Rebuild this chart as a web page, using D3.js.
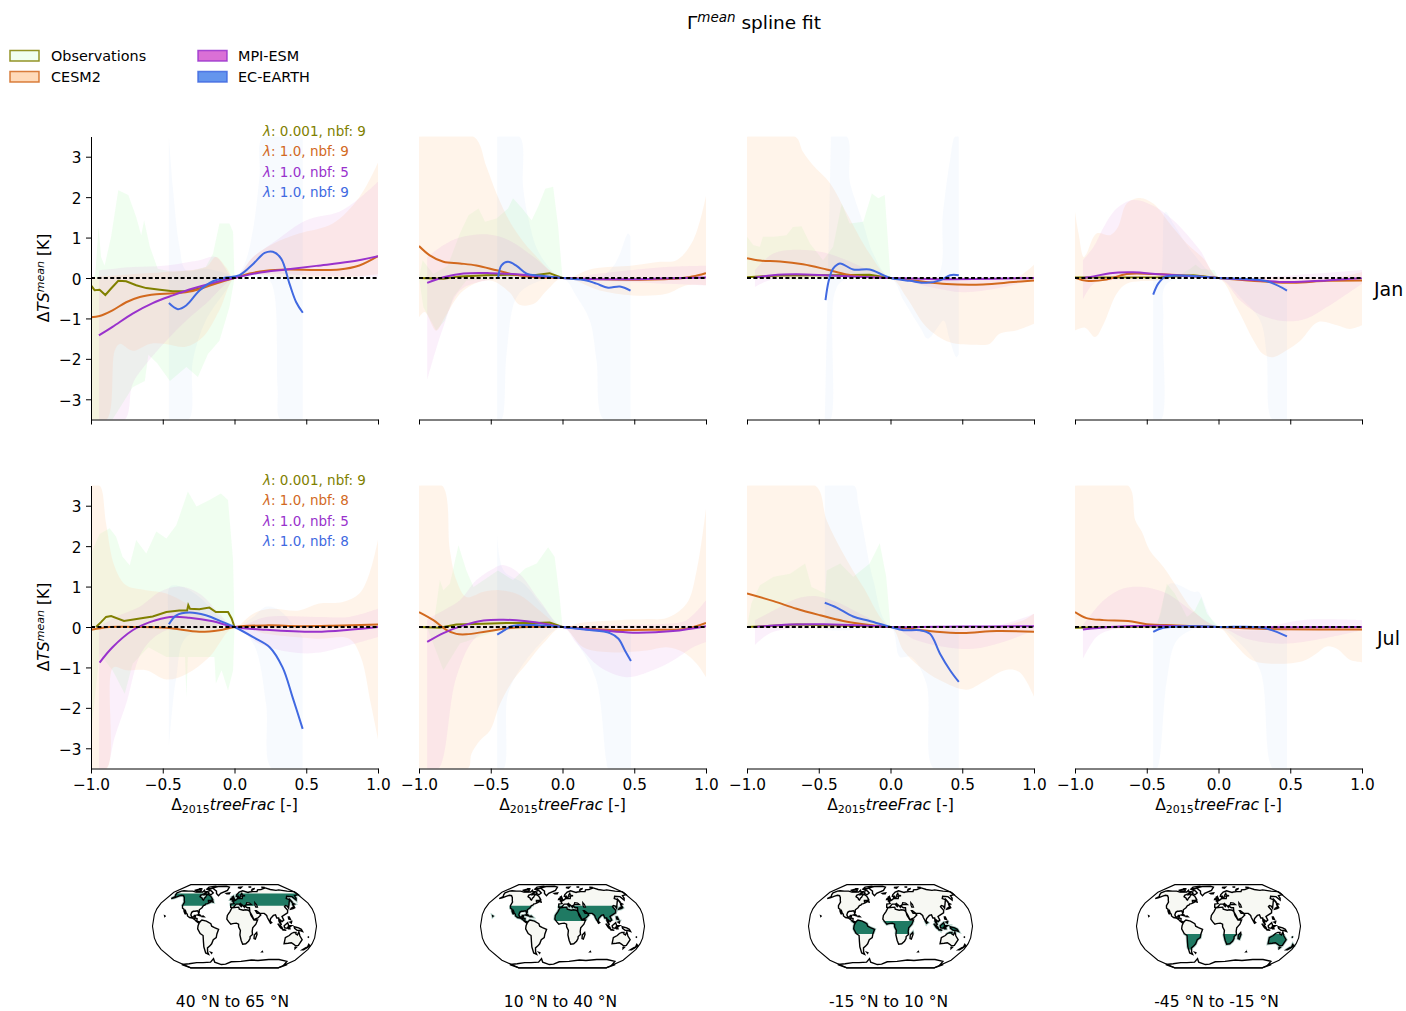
<!DOCTYPE html>
<html>
<head>
<meta charset="utf-8">
<script src="https://d3js.org/d3.v7.min.js"></script>
<style>
  html, body { margin: 0; background: #fff; }
  svg text { font-family: "DejaVu Sans", sans-serif; fill: #000; }
</style>
</head>
<body>
<svg id="chart" width="1406" height="1011"></svg>
<script>
// values: [x, y] in axis units
var xTicks = [-1, -0.5, 0, 0.5, 1];
var yTicks = [-3, -2, -1, 0, 1, 2, 3];
var months = ['Jan', 'Jul'];
var models = ['Observations', 'CESM2', 'MPI-ESM', 'EC-EARTH'];
var regionLabels = ['40 °N to 65 °N', '10 °N to 40 °N', '-15 °N to 10 °N', '-45 °N to -15 °N'];
var latBands = [[40, 65], [10, 40], [-15, 10], [-45, -15]];
var janFits = ['0.001, nbf: 9', '1.0, nbf: 9', '1.0, nbf: 5', '1.0, nbf: 9'];
var julFits = ['0.001, nbf: 9', '1.0, nbf: 8', '1.0, nbf: 5', '1.0, nbf: 8'];

// Jan, 40 to 65 N
var j1ObsLine = [[-1,-.18],[-.975,-.3],[-.94,-.29],[-.9,-.42],[-.86,-.26],[-.81,-.07],[-.755,-.08],[-.685,-.18],[-.615,-.25],[-.52,-.29],[-.43,-.33],[-.34,-.33],[-.245,-.26],[-.15,-.14],[-.06,-.03],[0,0]];
var j1ObsHi = [[-1,-.1],[-.97,.1],[-.947,1.26],[-.93,.52],[-.905,.31],[-.86,1.02],[-.81,2.17],[-.74,2.05],[-.685,1.51],[-.65,1.06],[-.63,1.43],[-.59,.77],[-.535,.23],[-.43,.15],[-.29,.19],[-.2,.27],[-.15,.6],[-.105,1.35],[-.035,1.35],[-.01,1.14],[0,0]];
var j1ObsLo = [[-1,-3.5],[-.85,-3.5],[-.71,-2.7],[-.625,-2.55],[-.6,-1.9],[-.54,-2.1],[-.45,-2.55],[-.335,-2.2],[-.255,-2.45],[-.185,-1.88],[-.105,-1.55],[-.035,-.72],[0,0]];
var j1CesmLine = [[-1,-.97],[-.94,-.94],[-.85,-.8],[-.755,-.6],[-.66,-.47],[-.545,-.4],[-.43,-.38],[-.29,-.32],[-.15,-.16],[0,0],[.105,.11],[.22,.18],[.36,.21],[.57,.2],[.73,.21],[.87,.31],[1,.54]];
var j1CesmHi = [[-1,.02],[-.7,.1],[-.48,.15],[-.2,.27],[-.13,.52],[-.06,.27],[0,0],[.13,.52],[.27,.85],[.45,1.1],[.685,1.35],[.87,2],[1,2.85]];
var j1CesmLo = [[-1,-3.5],[-.89,-3.5],[-.835,-1.8],[-.8,-1.63],[-.71,-1.8],[-.59,-1.63],[-.48,-1.63],[-.34,-1.7],[-.22,-1.46],[-.105,-.8],[0,0],[.13,.09],[.36,0],[.685,-.02],[1,.1]];
var j1MpiLine = [[-.945,-1.42],[-.85,-1.21],[-.71,-.88],[-.57,-.62],[-.43,-.43],[-.29,-.26],[-.15,-.12],[0,0],[.17,.13],[.36,.21],[.57,.3],[.8,.4],[1,.54]];
var j1MpiHi = [[-.945,.19],[-.71,.27],[-.475,.31],[-.245,.44],[-.13,.52],[0,0],[.13,.52],[.29,.93],[.5,1.43],[.73,1.64],[.87,1.97],[1,2.38]];
var j1MpiLo = [[-.945,-3.5],[-.765,-3.5],[-.71,-2.62],[-.615,-2.12],[-.475,-1.55],[-.335,-1.05],[-.2,-.64],[0,0],[.22,.1],[.6,.05],[1,.03]];
var j1EcLine = [[-.457,-.62],[-.395,-.77],[-.337,-.68],[-.244,-.31],[-.15,-.08],[-.06,.01],[.035,.07],[.128,.34],[.21,.62],[.267,.65],[.325,.48],[.383,-.14],[.43,-.6],[.476,-.86]];
var j1EcHi = [[-.457,3.5],[-.43,2.26],[-.383,.77],[-.337,.19],[-.2,.23],[-.06,.11],[0,0],[.07,.35],[.128,1.18],[.174,2.5],[.2,3.5],[.476,3.5]];
var j1EcLo = [[-.457,-3.5],[-.32,-3.5],[-.29,-2.04],[-.2,-1.05],[-.06,-.31],[0,0],[.128,.02],[.245,-.06],[.3,-2.7],[.32,-3.5],[.476,-3.5]];

// Jan, 10 to 40 N
var j2ObsLine = [[-1,0],[-.83,-.02],[-.715,.04],[-.53,.07],[-.37,.08],[-.2,.07],[-.09,.12],[0,0]];
var j2ObsHi = [[-1,0],[-.975,.44],[-.9,.1],[-.8,.3],[-.715,1.1],[-.655,1.55],[-.585,1.72],[-.54,1.39],[-.46,1.47],[-.38,1.72],[-.345,1.97],[-.285,1.74],[-.215,1.43],[-.17,1.76],[-.12,2.21],[-.065,2.26],[-.03,1.26],[0,0]];
var j2ObsLo = [[-1,0],[-.97,-.72],[-.88,-1.3],[-.82,-1.05],[-.76,-.47],[-.67,-.06],[-.44,-.02],[0,0]];
var j2CesmLine = [[-1,.79],[-.925,.56],[-.83,.4],[-.715,.36],[-.6,.31],[-.46,.19],[-.345,.09],[-.2,.02],[0,0],[.26,-.03],[.63,-.04],[.865,.01],[1,.12]];
var j2CesmHi = [[-1,3.5],[-.62,3.5],[-.53,2.75],[-.46,2.09],[-.345,1.26],[-.2,.6],[0,0],[.21,.23],[.49,.31],[.68,.4],[.795,.44],[.91,.93],[1,2.03]];
var j2CesmLo = [[-1,-.97],[-.96,-.84],[-.88,-1.3],[-.82,-.97],[-.69,-.31],[-.505,-.06],[-.37,-.35],[-.3,-.66],[-.2,-.64],[-.11,-.31],[0,0],[.26,-.31],[.49,-.43],[.725,-.39],[.865,-.18],[1,-.18]];
var j2MpiLine = [[-.943,-.12],[-.83,.02],[-.69,.11],[-.505,.12],[-.32,.09],[-.16,.04],[0,0],[.26,-.03],[.63,-.02],[1,.01]];
var j2MpiHi = [[-.943,.52],[-.83,.81],[-.715,1],[-.53,1.08],[-.37,.93],[-.2,.52],[0,0],[.26,.11],[.725,.27],[1,.3]];
var j2MpiLo = [[-.943,-2.52],[-.83,-1.21],[-.715,-.31],[-.53,-.06],[0,0],[.26,-.06],[.725,-.14],[1,-.18]];
var j2EcLine = [[-.448,.02],[-.425,.31],[-.38,.4],[-.32,.3],[-.25,.11],[-.16,.06],[0,0],[.167,-.06],[.237,-.14],[.318,-.24],[.4,-.21],[.474,-.31]];
var j2EcHi = [[-.455,3.5],[-.3,3.5],[-.275,2.26],[-.24,1.51],[-.16,.6],[0,0],[.26,.02],[.35,.27],[.4,.6],[.457,1.1],[.474,1.02]];
var j2EcLo = [[-.455,-3.5],[-.425,-3.5],[-.39,-1.88],[-.33,-.55],[-.25,-.22],[0,0],[.1,-.47],[.19,-1.05],[.237,-2.04],[.288,-3.5],[.474,-3.5]];

// Jan, -15 to 10 N
var j3ObsLine = [[-1,.02],[-.77,.06],[-.42,.07],[-.145,.08],[0,0]];
var j3ObsHi = [[-1,1.02],[-.955,.81],[-.91,.77],[-.89,1.02],[-.815,1.02],[-.725,1.06],[-.68,1.26],[-.62,1.28],[-.56,.85],[-.47,.44],[-.4,.77],[-.34,1.84],[-.285,1.35],[-.19,1.39],[-.13,2.09],[-.085,1.97],[-.04,2.05],[0,0]];
var j3ObsLo = [[-1,0],[-.65,-.04],[0,0]];
var j3CesmLine = [[-1,.49],[-.91,.43],[-.77,.41],[-.61,.34],[-.445,.21],[-.305,.09],[-.145,.02],[0,0],[.18,-.07],[.39,-.15],[.645,-.16],[.855,-.1],[1,-.06]];
var j3CesmHi = [[-1,3.5],[-.665,3.5],[-.61,3.12],[-.54,2.79],[-.42,2.34],[-.305,1.6],[-.145,.6],[0,0],[.275,.02],[.74,0],[.88,.02],[1,.33]];
var j3CesmLo = [[-1,0],[-.65,-.03],[0,0],[.11,-.47],[.25,-1.21],[.415,-1.59],[.6,-1.65],[.69,-1.63],[.76,-1.38],[.875,-1.3],[1,-1.13]];
var j3MpiLine = [[-.945,.01],[-.82,.07],[-.655,.09],[-.42,.06],[0,0],[.32,-.03],[1,0]];
var j3MpiHi = [[-.945,.19],[-.82,.6],[-.655,.7],[-.47,.64],[-.305,.44],[-.145,.19],[0,0],[.6,.02],[1,.03]];
var j3MpiLo = [[-.945,-.22],[-.82,-.04],[0,0],[.275,-.22],[.505,-.35],[.74,-.26],[1,-.04]];
var j3EcLine = [[-.453,-.55],[-.43,-.06],[-.4,.23],[-.353,.36],[-.26,.21],[-.145,.21],[-.05,.07],[0,0],[.135,-.07],[.25,-.12],[.345,-.06],[.415,.07],[.476,.07]];
var j3EcHi = [[-.415,3.5],[-.305,3.5],[-.285,2.42],[-.25,1.97],[-.19,1.35],[-.12,.6],[0,0],[.32,.02],[.365,1.6],[.415,2.92],[.45,3.5],[.476,3.5]];
var j3EcLo = [[-.458,-3.5],[-.42,-3.5],[-.39,-.39],[-.33,-.06],[0,0],[.09,-.55],[.205,-1.21],[.26,-1.5],[.33,-1.21],[.37,-1.05],[.415,-1.55],[.46,-1.96],[.476,-1.88]];

// Jan, -45 to -15 N
var j4ObsLine = [[-1,.01],[-.4,.02],[-.175,.07],[0,0]];
var j4ObsHi = [[-.45,.02],[-.26,.1],[-.2,.22],[-.16,.33],[-.12,.22],[-.03,.2],[0,0]];
var j4ObsLo = [[-.45,0],[-.2,-.02],[0,0]];
var j4CesmLine = [[-1,.01],[-.92,-.07],[-.78,-.04],[-.64,.1],[-.455,.1],[-.175,.05],[0,0],[.29,-.08],[.52,-.12],[.755,-.07],[1,-.06]];
var j4CesmHi = [[-1,1.64],[-.975,1.1],[-.94,.52],[-.92,.6],[-.85,1.1],[-.755,1.06],[-.7,1.26],[-.64,1.84],[-.545,1.98],[-.455,1.84],[-.34,1.35],[-.22,.85],[-.105,.48],[0,0],[.29,.02],[.825,.02],[1,.15]];
var j4CesmLo = [[-1,-1.3],[-.93,-1.23],[-.86,-1.46],[-.8,-1.13],[-.71,-.39],[-.64,-.14],[-.41,-.06],[0,0],[.125,-.72],[.245,-1.55],[.31,-1.88],[.38,-1.96],[.475,-1.79],[.57,-1.55],[.695,-1.09],[.825,-1.17],[.915,-1.26],[1,-1.17]];
var j4MpiLine = [[-.945,0],[-.87,.04],[-.755,.12],[-.595,.14],[-.41,.09],[-.175,.04],[0,0],[.29,-.06],[.475,-.1],[.755,-.06],[1,0]];
var j4MpiHi = [[-.945,.44],[-.87,.77],[-.8,1.26],[-.71,1.72],[-.595,1.93],[-.455,1.79],[-.315,1.43],[-.13,.69],[0,0],[.29,.02],[1,.2]];
var j4MpiLo = [[-.945,-.53],[-.87,-.14],[-.755,-.06],[0,0],[.15,-.55],[.29,-.91],[.475,-1.07],[.615,-1],[.755,-.72],[1,-.14]];
var j4EcLine = [[-.455,-.41],[-.42,-.14],[-.375,.02],[-.27,.06],[0,0],[.335,-.08],[.477,-.31]];
var j4EcHi = [[-.455,.02],[-.41,.02],[-.37,1.64],[-.315,1.35],[-.175,.6],[0,0],[.29,-.02],[.477,-.22]];
var j4EcLo = [[-.455,-3.5],[-.4,-3.5],[-.385,-1.05],[-.36,-.14],[0,0],[.15,-.47],[.29,-1.05],[.335,-1.88],[.375,-3.5],[.477,-3.5]];

// Jul, 40 to 65 N
var l1ObsLine = [[-.965,0],[-.93,.12],[-.895,.25],[-.86,.27],[-.77,.15],[-.66,.21],[-.57,.26],[-.475,.37],[-.385,.41],[-.33,.41],[-.322,.54],[-.31,.45],[-.245,.44],[-.175,.48],[-.13,.37],[-.045,.37],[-.02,.21],[0,0]];
var l1ObsHi = [[-1,1.82],[-.94,2.3],[-.87,2.44],[-.825,2.23],[-.78,1.74],[-.73,1.53],[-.685,2.15],[-.615,1.82],[-.545,2.36],[-.475,2.19],[-.405,2.52],[-.325,3.35],[-.265,2.98],[-.175,3.14],[-.095,3.3],[-.045,3.14],[-.01,1.65],[0,0]];
var l1ObsLo = [[-1,-2.64],[-.94,-.66],[-.85,-1.07],[-.765,-1.65],[-.71,-.91],[-.6,-.5],[-.475,-.74],[-.345,-.74],[-.335,-1.74],[-.325,-.74],[-.245,-.74],[-.14,-.74],[-.13,-1.4],[-.09,-1.07],[-.045,-1.57],[-.01,-1.07],[0,0]];
var l1CesmLine = [[-1,-.07],[-.87,0],[-.71,0],[-.475,-.02],[-.245,-.12],[-.105,-.08],[0,0],[.22,.04],[.45,.02],[.685,.03],[1,.06]];
var l1CesmHi = [[-1,3.5],[-.94,3.5],[-.895,2.56],[-.835,1.49],[-.755,1.03],[-.615,.91],[-.475,.83],[-.335,.58],[-.175,.17],[0,0],[.13,.33],[.245,.45],[.45,.41],[.59,.58],[.755,.62],[.87,.83],[.94,1.32],[1,2.15]];
var l1CesmLo = [[-1,-3.5],[-.89,-3.5],[-.845,-1],[-.755,-1.07],[-.615,-1.07],[-.475,-1.3],[-.335,-1.16],[-.175,-.74],[0,0],[.22,-.17],[.57,-.29],[.8,-.29],[.88,-.74],[.95,-1.9],[1,-2.77]];
var l1MpiLine = [[-.94,-.88],[-.85,-.5],[-.71,-.08],[-.59,.12],[-.45,.25],[-.315,.23],[-.15,.14],[0,0],[.22,-.07],[.57,-.12],[.8,-.07],[1,0]];
var l1MpiHi = [[-.945,0],[-.825,.25],[-.66,.5],[-.52,.87],[-.385,1],[-.245,.83],[-.105,.33],[0,0],[.22,.25],[.57,.25],[.8,.25],[1,.45]];
var l1MpiLo = [[-.945,-3.5],[-.895,-3.5],[-.835,-2.73],[-.755,-1.9],[-.64,-.58],[-.475,-.08],[-.15,-.07],[0,0],[.17,-.41],[.385,-.62],[.57,-.64],[.8,-.45],[1,-.25]];
var l1EcLine = [[-.457,.07],[-.405,.29],[-.315,.36],[-.2,.29],[-.08,.12],[0,0],[.13,-.25],[.245,-.5],[.335,-1],[.405,-1.74],[.475,-2.52]];
var l1EcHi = [[-.457,.17],[-.45,1],[-.37,1],[-.245,.74],[-.105,.25],[0,0],[.13,.25],[.22,.5],[.315,.41],[.475,-.25]];
var l1EcLo = [[-.457,-2.98],[-.43,-1.9],[-.405,-1.24],[-.335,-.25],[0,0],[.13,-.41],[.22,-1.9],[.26,-3.5],[.475,-3.5]];

// Jul, 10 to 40 N
var l2ObsLine = [[-1,0],[-.855,-.02],[-.74,.06],[-.55,.08],[-.39,.1],[-.2,.1],[-.09,.11],[0,0]];
var l2ObsHi = [[-1,0],[-.9,0],[-.855,1.16],[-.83,.91],[-.785,1.07],[-.725,2.02],[-.67,1.4],[-.62,.99],[-.45,1.4],[-.345,1.16],[-.26,1.45],[-.18,1.57],[-.1,1.97],[-.055,1.74],[-.02,.74],[0,0]];
var l2ObsLo = [[-1,0],[-.945,0],[-.83,-1.07],[-.715,-.41],[-.44,-.08],[0,0]];
var l2CesmLine = [[-1,.37],[-.9,.17],[-.81,-.07],[-.74,-.17],[-.67,-.18],[-.53,-.11],[-.345,-.02],[0,0],[.26,-.06],[.61,-.07],[.865,-.04],[1,.1]];
var l2CesmHi = [[-1,3.5],[-.84,3.5],[-.785,1.9],[-.74,1.16],[-.67,.74],[-.55,.87],[-.435,.91],[-.3,.79],[-.16,.41],[0,0],[.12,.1],[.38,.17],[.585,.19],[.725,.22],[.865,.58],[.935,1.4],[1,2.93]];
var l2CesmLo = [[-1,-3.5],[-.66,-3.5],[-.635,-3.14],[-.575,-2.81],[-.505,-2.56],[-.435,-1.9],[-.345,-1.32],[-.25,-.91],[-.135,-.41],[0,0],[.145,-.5],[.305,-.62],[.585,-.58],[.725,-.5],[.84,-.62],[.935,-.91],[1,-1.24]];
var l2MpiLine = [[-.943,-.37],[-.83,-.15],[-.69,.04],[-.55,.16],[-.41,.18],[-.25,.14],[-.11,.07],[0,0],[.26,-.08],[.49,-.14],[.77,-.1],[1,.02]];
var l2MpiHi = [[-.943,.2],[-.83,.41],[-.715,.66],[-.6,1.16],[-.48,1.45],[-.41,1.53],[-.3,1.32],[-.16,.66],[0,0],[.26,.04],[.725,.08],[.865,.17],[1,.66]];
var l2MpiLo = [[-.943,-3.5],[-.865,-3.5],[-.74,-1.24],[-.6,-.25],[-.44,-.08],[0,0],[.1,-.41],[.26,-.99],[.445,-1.24],[.63,-1.07],[.77,-.83],[.91,-.5],[1,-.37]];
var l2EcLine = [[-.455,-.19],[-.4,-.07],[-.355,.02],[-.2,.05],[0,0],[.165,-.07],[.33,-.15],[.39,-.29],[.435,-.58],[.477,-.84]];
var l2EcHi = [[-.455,2.31],[-.41,1.4],[-.27,1.07],[-.135,.5],[0,0],[.477,0]];
var l2EcLo = [[-.455,-3.5],[-.41,-3.5],[-.385,-1.74],[-.33,-1.24],[-.2,-.58],[0,0],[.12,-.5],[.235,-1.32],[.305,-3.3],[.32,-3.5],[.477,-3.5]];

// Jul, -15 to 10 N
var l3ObsLine = [[-1,0],[-.65,.06],[-.3,.03],[0,0]];
var l3ObsHi = [[-1,0],[-.97,.58],[-.91,1.03],[-.815,1.24],[-.7,1.32],[-.595,1.57],[-.55,.99],[-.455,.83],[-.445,1.4],[-.35,1.57],[-.26,1.24],[-.145,1.57],[-.075,2.07],[-.03,1.24],[0,0]];
var l3ObsLo = [[-1,0],[-.5,-.02],[0,0]];
var l3CesmLine = [[-1,.83],[-.815,.64],[-.655,.45],[-.49,.29],[-.33,.15],[-.145,.05],[0,0],[.18,-.06],[.32,-.12],[.505,-.15],[.74,-.1],[1,-.12]];
var l3CesmHi = [[-1,3.5],[-.525,3.5],[-.445,2.64],[-.33,1.82],[-.19,.99],[0,0],[.275,0],[.74,0],[.925,.17],[1,.33]];
var l3CesmLo = [[-1,0],[-.42,-.04],[0,0],[.09,-.58],[.205,-.99],[.345,-1.32],[.53,-1.55],[.645,-1.36],[.81,-1.06],[.9,-1.12],[1,-1.72]];
var l3MpiLine = [[-.945,0],[-.7,.06],[-.47,.07],[-.19,.04],[0,0],[.5,.01],[1,.02]];
var l3MpiHi = [[-.945,.17],[-.815,.41],[-.655,.7],[-.515,.76],[-.35,.58],[-.19,.29],[0,0],[.74,.04],[1,.33]];
var l3MpiLo = [[-.945,-.45],[-.815,-.12],[0,0],[.18,-.33],[.39,-.5],[.575,-.54],[.785,-.37],[1,-.08]];
var l3EcLine = [[-.458,.6],[-.375,.48],[-.26,.26],[-.145,.15],[0,0],[.09,-.08],[.205,-.08],[.275,-.17],[.345,-.66],[.415,-1.07],[.476,-1.36]];
var l3EcHi = [[-.458,3.5],[-.255,3.5],[-.225,3.06],[-.19,2.4],[-.12,1.16],[0,0],[.476,0]];
var l3EcLo = [[-.458,-.08],[-.3,-.08],[0,0],[.065,-.74],[.145,-.74],[.25,-1.4],[.3,-3.5],[.476,-3.5]];

// Jul, -45 to -15 N
var l4ObsLine = [[-1,-.02],[-.4,.02],[0,0]];
var l4ObsHi = [[-1,0],[-.43,0],[-.36,1.07],[-.305,.83],[-.22,.25],[-.165,.41],[-.12,.74],[-.08,.33],[0,0]];
var l4ObsLo = [[-1,0],[0,0]];
var l4CesmLine = [[-1,.37],[-.92,.22],[-.8,.17],[-.63,.15],[-.5,.07],[-.29,.04],[0,0],[.335,-.05],[1,-.06]];
var l4CesmHi = [[-1,3.5],[-.63,3.5],[-.58,2.64],[-.535,2.36],[-.48,1.9],[-.385,1.49],[-.29,.99],[-.175,.41],[0,0],[1,.03]];
var l4CesmLo = [[-1,-.02],[-.41,-.04],[0,0],[.1,-.37],[.24,-.83],[.405,-.91],[.59,-.84],[.68,-.66],[.755,-.48],[.825,-.54],[.915,-.81],[1,-.87]];
var l4MpiLine = [[-.945,-.06],[-.755,0],[-.41,.03],[0,0],[1,0]];
var l4MpiHi = [[-.945,.04],[-.8,.66],[-.665,.95],[-.525,.99],[-.36,.83],[-.175,.37],[0,0],[.29,0],[.61,.18],[1,.17]];
var l4MpiLo = [[-.945,-.79],[-.85,-.25],[-.755,-.08],[0,0],[.195,-.29],[.475,-.41],[1,-.08]];
var l4EcLine = [[-.455,-.12],[-.385,-.02],[-.175,.02],[0,0],[.31,-.02],[.477,-.23]];
var l4EcHi = [[-.455,0],[-.41,.25],[-.34,1.07],[-.175,.87],[-.14,.87],[0,0],[.477,0]];
var l4EcLo = [[-.455,-3.5],[-.43,-3.5],[-.36,-1.32],[-.29,-.33],[-.13,0],[0,0],[.15,-.41],[.29,-1.07],[.38,-3.5],[.477,-3.5]];

// coastlines, [lon, lat]
var coastNorthAmerica = [[-168,66],[-162,70],[-156,71],[-141,70],[-128,70],[-115,68],[-108,68],[-95,68],[-94,72],[-88,68],[-82,69],[-81,67],[-87,64],[-94,61],[-93,58],[-85,55],[-82,52],[-79,51],[-79,55],[-77,57],[-78,62],[-72,62],[-65,59],[-62,57],[-56,52],[-60,50],[-66,50],[-65,48],[-61,46],[-66,44],[-70,43],[-71,41],[-74,40],[-76,36],[-81,32],[-80,26],[-81,25],[-83,29],[-85,30],[-90,29],[-94,29],[-97,27],[-98,22],[-95,18],[-91,18],[-90,21],[-87,21],[-88,16],[-83,15],[-83,10],[-79,9],[-77,8],[-80,7],[-85,10],[-88,13],[-94,16],[-100,17],[-105,20],[-106,23],[-110,27],[-113,31],[-115,31],[-110,23],[-112,25],[-115,29],[-117,33],[-121,35],[-124,40],[-124,47],[-128,51],[-133,56],[-140,60],[-147,61],[-152,59],[-158,56],[-165,54],[-160,58],[-165,62]];
var coastSouthAmerica = [[-77,8],[-72,12],[-62,10],[-52,5],[-50,0],[-44,-2.5],[-35,-6],[-39,-15],[-41,-22],[-48,-26],[-53,-34],[-58,-38],[-65,-42],[-68,-50],[-68,-55],[-74,-52],[-73,-40],[-71,-30],[-70,-18],[-76,-14],[-81,-5],[-80,1]];
var coastAfrica = [[-6,36],[10,37],[11,33],[20,31],[25,32],[32,31],[35,28],[37,21],[43,12],[51,12],[47,4],[40,-3],[39,-10],[40,-16],[35,-20],[35,-24],[32,-29],[26,-34],[19,-35],[15,-27],[12,-17],[13,-8],[9,-1],[9,4],[4,6],[-4,5],[-8,4],[-13,9],[-17,14],[-16,21],[-10,29]];
var coastEurasia = [[-9,37],[-9,43],[-1,44],[-4,48],[3,51],[8,54],[8,57],[11,54],[20,54],[22,59],[29,60],[22,61],[21,65],[17,61],[18,59],[13,55],[11,59],[5,59],[6,62],[14,68],[25,71],[40,67],[44,68],[55,69],[68,69],[73,73],[85,74],[105,78],[115,74],[130,72],[140,73],[160,70],[179,69],[179,65],[178,62],[165,60],[162,55],[157,51],[155,58],[142,59],[135,54],[141,52],[132,43],[128,38],[126,35],[125,39],[121,40],[118,38],[122,31],[120,26],[110,21],[106,19],[109,12],[105,9],[100,13],[103,2],[100,6],[98,10],[98,16],[94,16],[92,22],[87,21],[80,15],[78,8],[73,17],[72,21],[67,25],[57,25],[50,30],[48,30],[51,25],[56,25],[59,22],[52,16],[43,13],[39,21],[35,28],[35,36],[30,36],[26,38],[27,41],[24,40],[23,37],[20,40],[13,45],[18,40],[16,38],[11,43],[4,43],[0,39],[-2,37],[-6,36]];
var coastAustralia = [[114,-22],[122,-18],[126,-14],[131,-12],[136,-12],[136,-15],[140,-17],[142,-11],[146,-19],[153,-26],[150,-37],[144,-38],[138,-35],[131,-32],[124,-33],[115,-34]];
var coastGreenland = [[-73,78],[-60,82],[-30,83],[-18,80],[-22,72],[-40,65],[-44,60],[-52,65],[-55,70],[-70,76]];
var coastArctic = [[[-80,73],[-70,70],[-62,66],[-66,62],[-75,65],[-78,70]],[[-118,72],[-105,73],[-102,69],[-115,69]],[[-90,80],[-70,83],[-62,82],[-78,76],[-90,76]],[[12,79],[25,80],[20,77]],[[52,71],[68,77],[58,75]],[[-24,65],[-14,66],[-15,64],[-22,64]],[[-125,72],[-118,74],[-117,71]],[[-92,75],[-80,75],[-85,74]],[[-117,76],[-106,76],[-110,75]],[[-87,65],[-81,64],[-85,62]],[[95,80],[105,79],[100,78]],[[50,81],[60,81],[55,80]]];
var coastIslands = [[[-59,48],[-53,47],[-56,51]],[[-85,22],[-75,20],[-78,22.5]],[[-74,19],[-68,18.5],[-70,20]],[[-5,50],[1,51],[-2,56],[-3,58.5],[-6,57],[-3,54]],[[-10,52],[-6,52],[-6,55],[-9,54]],[[130,33],[136,34],[141,36],[141,41],[138,37],[132,35]],[[140,42],[145,43],[142,45]],[[142,54],[143,47],[142,46]],[[120,18],[122,18],[124,13],[120,14]],[[122,8],[126,9],[125,6]],[[109,1],[117,7],[119,1],[116,-4],[110,-3]],[[95,5],[104,-2],[106,-6],[101,-3]],[[105,-7],[114,-8],[110,-6.5]],[[119,-5],[120,1],[125,1],[121,-1],[122,-5]],[[131,-1],[141,-3],[147,-6],[150,-10],[143,-8],[138,-8],[132,-4]],[[145,-41],[148,-41],[147,-43.5]],[[173,-35],[178,-38],[175,-41],[174,-39]],[[167,-46],[172,-41],[174,-42],[170,-46]],[[49,-12],[50,-16],[47,-25],[44,-24],[44,-17]],[[80,9],[82,7],[80,6]],[[-156,20],[-155,19.5],[-155.5,19]],[[165,-21],[167,-22],[164,-20]],[[-60,-51],[-58,-51.5],[-59,-52.5]],[[70,-49],[70.5,-49.5],[69.5,-49.5]]];
var coastAntarctica = [[-179.9,-78],[-150,-76],[-120,-73],[-100,-73],[-75,-72],[-60,-64],[-62,-72],[-45,-78],[-30,-77],[-10,-71],[20,-70],[50,-67],[70,-68],[100,-66],[130,-66],[160,-70],[170,-78],[179.9,-78],[179.9,-89.9],[-179.9,-89.9]];
var inlandSeas = [[[28,42],[30,46],[37,45],[41,42],[35,42]],[[50,46],[53,42],[54,37],[50,37],[49,41]]];

var colLeft = [91, 419, 747, 1075];
var colWidth = 287;
var rowTop = [136.5, 485.5];
var rowHeight = 283;
var lineColors = ['#808000', '#d2691e', '#9932cc', '#4169e1'];
var bandColors = ['#98fb98', '#ffdab9', '#da70d6', '#6495ed'];
var bandAlpha = [0.14, 0.3, 0.1, 0.05];
var legendFill = ['#f0fff0', '#ffdab9', '#da70d6', '#6495ed'];

var panels = [
    [[j1ObsLine, j1ObsHi, j1ObsLo], [j1CesmLine, j1CesmHi, j1CesmLo], [j1MpiLine, j1MpiHi, j1MpiLo], [j1EcLine, j1EcHi, j1EcLo]],
    [[j2ObsLine, j2ObsHi, j2ObsLo], [j2CesmLine, j2CesmHi, j2CesmLo], [j2MpiLine, j2MpiHi, j2MpiLo], [j2EcLine, j2EcHi, j2EcLo]],
    [[j3ObsLine, j3ObsHi, j3ObsLo], [j3CesmLine, j3CesmHi, j3CesmLo], [j3MpiLine, j3MpiHi, j3MpiLo], [j3EcLine, j3EcHi, j3EcLo]],
    [[j4ObsLine, j4ObsHi, j4ObsLo], [j4CesmLine, j4CesmHi, j4CesmLo], [j4MpiLine, j4MpiHi, j4MpiLo], [j4EcLine, j4EcHi, j4EcLo]],
    [[l1ObsLine, l1ObsHi, l1ObsLo], [l1CesmLine, l1CesmHi, l1CesmLo], [l1MpiLine, l1MpiHi, l1MpiLo], [l1EcLine, l1EcHi, l1EcLo]],
    [[l2ObsLine, l2ObsHi, l2ObsLo], [l2CesmLine, l2CesmHi, l2CesmLo], [l2MpiLine, l2MpiHi, l2MpiLo], [l2EcLine, l2EcHi, l2EcLo]],
    [[l3ObsLine, l3ObsHi, l3ObsLo], [l3CesmLine, l3CesmHi, l3CesmLo], [l3MpiLine, l3MpiHi, l3MpiLo], [l3EcLine, l3EcHi, l3EcLo]],
    [[l4ObsLine, l4ObsHi, l4ObsLo], [l4CesmLine, l4CesmHi, l4CesmLo], [l4MpiLine, l4MpiHi, l4MpiLo], [l4EcLine, l4EcHi, l4EcLo]]
];

var svg = d3.select('#chart');

// title
var title = svg.append('text').attr('x', 754).attr('y', 28.5).attr('text-anchor', 'middle').style('font-size', '18.5px');
title.append('tspan').text('Γ');
title.append('tspan').attr('dy', -7).style('font-size', '13.5px').style('font-style', 'italic').text('mean');
title.append('tspan').attr('dy', 7).text(' spline fit');

// legend
var legendX = [10, 10, 198, 198];
var legendY = [50.5, 71.5, 50.5, 71.5];
models.forEach(function(name, i) {
    svg.append('rect')
        .attr('x', legendX[i]).attr('y', legendY[i])
        .attr('width', 29).attr('height', 10.5)
        .attr('fill', legendFill[i])
        .attr('stroke', lineColors[i]).attr('stroke-opacity', 0.85).attr('stroke-width', 1.5);
    svg.append('text')
        .attr('x', legendX[i] + 41 - (i > 1 ? 1 : 0)).attr('y', legendY[i] + 10.5)
        .style('font-size', '14.4px').text(name);
});

function drawPanel(row, col) {
    var idx = row * 4 + col;
    var x = d3.scaleLinear().domain([-1, 1]).range([colLeft[col], colLeft[col] + colWidth]);
    var y = d3.scaleLinear().domain([-3.5, 3.5]).range([rowTop[row] + rowHeight, rowTop[row]]);

    var clipId = 'clip' + idx;
    svg.append('clipPath').attr('id', clipId).append('rect')
        .attr('x', colLeft[col]).attr('y', rowTop[row])
        .attr('width', colWidth).attr('height', rowHeight);

    var g = svg.append('g').attr('clip-path', 'url(#' + clipId + ')');
    var straight = d3.line().x(function(d) { return x(d[0]); }).y(function(d) { return y(d[1]); });
    var smooth = d3.line().x(function(d) { return x(d[0]); }).y(function(d) { return y(d[1]); })
        .curve(d3.curveCatmullRom.alpha(0.5));

    panels[idx].forEach(function(s, i) {
        var draw = i === 0 ? straight : smooth;
        g.append('path')
            .attr('d', draw(s[1]) + 'L' + draw(s[2].slice().reverse()).slice(1) + 'Z')
            .attr('fill', bandColors[i]).attr('fill-opacity', bandAlpha[i]);
    });
    panels[idx].forEach(function(s, i) {
        g.append('path')
            .attr('d', i === 0 ? straight(s[0]) : smooth(s[0]))
            .attr('fill', 'none').attr('stroke', lineColors[i]).attr('stroke-width', 2);
    });

    svg.append('line')
        .attr('x1', x(-1)).attr('x2', x(1)).attr('y1', y(0)).attr('y2', y(0))
        .attr('stroke', '#000').attr('stroke-width', 1.8).attr('stroke-dasharray', '4,2.4');

    // axes
    var xAxis = d3.axisBottom(x).tickValues(xTicks).tickSize(5).tickSizeOuter(0).tickPadding(5.5)
        .tickFormat(row === 1 ? d3.format('.1f') : '');
    var gx = svg.append('g').attr('transform', 'translate(0,' + (rowTop[row] + rowHeight) + ')').call(xAxis);
    gx.selectAll('text').style('font-size', '15.3px');
    if (row === 1) {
        var xl = svg.append('text').attr('x', colLeft[col] + colWidth / 2).attr('y', 810)
            .attr('text-anchor', 'middle').style('font-size', '15.6px');
        xl.append('tspan').text('Δ');
        xl.append('tspan').attr('dy', 3).style('font-size', '11px').text('2015');
        xl.append('tspan').attr('dy', -3).style('font-style', 'italic').text('treeFrac');
        xl.append('tspan').text(' [-]');
    }
    if (col === 0) {
        var yAxis = d3.axisLeft(y).tickValues(yTicks).tickSize(5).tickSizeOuter(0).tickPadding(4.5).tickFormat(d3.format('d'));
        var gy = svg.append('g').attr('transform', 'translate(' + colLeft[0] + ',0)').call(yAxis);
        gy.selectAll('text').style('font-size', '15.3px').attr('dy', '0.4em');
        var yl = svg.append('text')
            .attr('transform', 'translate(49,' + y(0) + ') rotate(-90)')
            .attr('text-anchor', 'middle').style('font-size', '15.6px');
        yl.append('tspan').text('Δ');
        yl.append('tspan').style('font-style', 'italic').text('TS');
        yl.append('tspan').attr('dy', -5).style('font-size', '11px').style('font-style', 'italic').text('mean');
        yl.append('tspan').attr('dy', 5).text(' [K]');

        // fit labels
        var fits = row === 0 ? janFits : julFits;
        fits.forEach(function(f, i) {
            var t = svg.append('text').attr('x', 263).attr('y', rowTop[row] - 0.5 + i * 20.3)
                .style('fill', lineColors[i]).style('font-size', '13.5px');
            t.append('tspan').style('font-style', 'italic').text('λ');
            t.append('tspan').text(': ' + f);
        });
    }
    if (col === 3) {
        svg.append('text').attr('x', row === 0 ? 1374 : 1377).attr('y', y(0) + 17.5)
            .style('font-size', '19px').text(months[row]);
    }
}

months.forEach(function(m, r) {
    colLeft.forEach(function(c, k) { drawPanel(r, k); });
});

// maps
var robinX = [1,.9986,.9954,.99,.9822,.973,.96,.9427,.9216,.8962,.8679,.835,.7986,.7597,.7186,.6732,.6213,.5722,.5322];
var robinY = [0,.062,.124,.186,.248,.31,.372,.434,.4958,.5571,.6176,.6769,.7346,.7903,.8435,.8936,.9394,.9761,1];
var robinLat = d3.scaleLinear().domain(d3.range(19).map(function(i) { return i * 5; }));
var robinXAt = robinLat.copy().range(robinX);
var robinYAt = robinLat.copy().range(robinY);
function robinsonRaw(lam, phi) {
    var deg = Math.abs(phi) * 180 / Math.PI;
    return [0.8487 * lam * robinXAt(deg), (phi < 0 ? -1 : 1) * 1.3523 * robinYAt(deg)];
}

function polygon(ring) {
    var closed = ring.concat([ring[0]]);
    var poly = {type: 'Polygon', coordinates: [closed]};
    if (d3.geoArea(poly) > 2 * Math.PI) poly.coordinates[0] = closed.slice().reverse();
    return poly;
}

var landRings = [coastNorthAmerica, coastSouthAmerica, coastAfrica, coastEurasia, coastAustralia]
    .concat(coastIslands);
var otherRings = [coastGreenland].concat(coastArctic);

latBands.forEach(function(band, i) {
    var cx = colLeft[i] + colWidth / 2;
    var projection = d3.geoProjection(robinsonRaw).rotate([0, 0])
        .fitExtent([[cx - 82, 884.5], [cx + 82, 968]], {type: 'Sphere'});
    var path = d3.geoPath(projection);
    var land = {type: 'GeometryCollection', geometries: landRings.map(polygon)};
    var others = {type: 'GeometryCollection', geometries: otherRings.map(polygon)};
    var seas = {type: 'GeometryCollection', geometries: inlandSeas.map(polygon)};
    var south = polygon(coastAntarctica);

    var m = svg.append('g');
    var paleId = 'pale' + i;
    var bandId = 'band' + i;
    var paleTop = projection([0, 75])[1], paleBottom = projection([0, -60])[1];
    var bandTop = projection([0, band[1]])[1], bandBottom = projection([0, band[0]])[1];
    svg.append('clipPath').attr('id', paleId).append('rect')
        .attr('x', cx - 90).attr('width', 180).attr('y', paleTop).attr('height', paleBottom - paleTop);
    svg.append('clipPath').attr('id', bandId).append('rect')
        .attr('x', cx - 90).attr('width', 180).attr('y', bandTop).attr('height', bandBottom - bandTop);

    m.append('path').attr('d', path(land)).attr('fill', '#f7f8f3').attr('clip-path', 'url(#' + paleId + ')');
    m.append('path').attr('d', path(land)).attr('fill', '#1f7a63')
        .attr('stroke', '#1f7a63').attr('stroke-opacity', 0.35).attr('stroke-width', 3)
        .attr('clip-path', 'url(#' + bandId + ')');
    m.append('path').attr('d', path(seas)).attr('fill', '#fff');
    m.append('path').attr('d', path(others)).attr('fill', 'none').attr('stroke', '#000').attr('stroke-width', 1.4);
    m.append('path').attr('d', path(land)).attr('fill', 'none').attr('stroke', '#000').attr('stroke-width', 1.4);
    m.append('path').attr('d', path(seas)).attr('fill', 'none').attr('stroke', '#000').attr('stroke-width', 1.2);
    m.append('path').attr('d', path(south)).attr('fill', '#fff').attr('stroke', '#000').attr('stroke-width', 1.4);
    m.append('path').attr('d', path({type: 'Sphere'})).attr('fill', 'none').attr('stroke', '#000').attr('stroke-width', 1.1);

    svg.append('text').attr('x', cx - 2).attr('y', 1007).attr('text-anchor', 'middle')
        .style('font-size', '15.5px').text(regionLabels[i]);
});
</script>
</body>
</html>
